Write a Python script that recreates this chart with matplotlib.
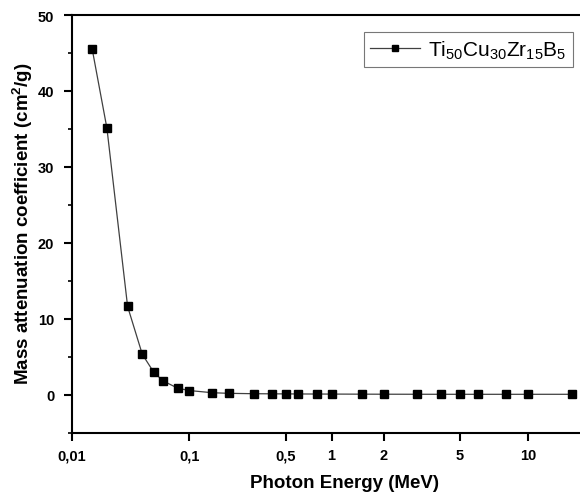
import numpy as np
import matplotlib
matplotlib.use("Agg")
import matplotlib.pyplot as plt
from matplotlib.ticker import FixedLocator, FixedFormatter, NullLocator, MultipleLocator

# ---- data ----
energy = [0.015, 0.02, 0.03, 0.04, 0.05, 0.06, 0.08, 0.1, 0.15, 0.2, 0.3, 0.4, 0.5,
          0.6, 0.8, 1, 1.5, 2, 3, 4, 5, 6, 8, 10, 15]
mac = [45.5, 35.1, 11.6, 5.3, 2.95, 1.8, 0.84, 0.53, 0.24, 0.16, 0.11, 0.095, 0.085,
       0.078, 0.068, 0.061, 0.050, 0.043, 0.037, 0.034, 0.032, 0.031, 0.031, 0.031, 0.033]
xtick_vals = [0.01, 0.1, 0.5, 1, 2, 5, 10]
xtick_labels = ["0,01", "0,1", "0,5", "1", "2", "5", "10"]
series_label = r"Ti$_{50}$Cu$_{30}$Zr$_{15}$B$_{5}$"

# ---- custom axis scale (mimics the original software's axis spacing) ----
KX = np.log10([0.01, 0.1, 0.2, 0.5, 1, 2, 5, 10, 15, 20])
KP = np.array([71.7, 189.3, 229.0, 285.7, 331.7, 384.0, 460.0, 528.3, 571.7, 603.5])

def fwd2(x):
    x = np.asarray(x, dtype=float)
    lx = np.log10(np.clip(x, 1e-6, None))
    out = np.interp(lx, KX, KP)
    out = np.where(lx < KX[0], KP[0] + (lx - KX[0]) * 117.6, out)
    out = np.where(lx > KX[-1], KP[-1] + (lx - KX[-1]) * 250.0, out)
    return out

def inv2(p):
    p = np.asarray(p, dtype=float)
    out = np.interp(p, KP, KX)
    out = np.where(p < KP[0], KX[0] + (p - KP[0]) / 117.6, out)
    out = np.where(p > KP[-1], KX[-1] + (p - KP[-1]) / 250.0, out)
    return 10 ** out

plt.rcParams['font.family'] = ['Liberation Sans', 'DejaVu Sans']
plt.rcParams['mathtext.fontset'] = 'custom'
plt.rcParams['mathtext.rm'] = 'Liberation Sans'
plt.rcParams['mathtext.it'] = 'Liberation Sans'
plt.rcParams['mathtext.bf'] = 'Liberation Sans:bold'

fig = plt.figure(figsize=(5.8, 5.02), dpi=100)
W, H = 580, 502
left, right, top, bottom = 71.5, 617, 16, 433.5
aw, ah = right - left, bottom - top
ax = fig.add_axes([left / W, 1 - bottom / H, aw / W, ah / H])
ax.set_xscale('function', functions=(fwd2, inv2))
ax.set_xlim(0.01, float(inv2(np.array(71.7 + aw))))
ax.set_ylim(-5, 50)

ax.plot(energy, mac, color='#404040', lw=0.9, marker='s', markersize=6.3,
        markerfacecolor='black', markeredgecolor='black', label=series_label)

ax.xaxis.set_major_locator(FixedLocator(xtick_vals))
ax.xaxis.set_major_formatter(FixedFormatter(xtick_labels))
ax.xaxis.set_minor_locator(NullLocator())
ax.yaxis.set_major_locator(MultipleLocator(10))
ax.yaxis.set_minor_locator(MultipleLocator(5))

for s in ['left', 'bottom', 'top']:
    ax.spines[s].set_linewidth(1.5)
ax.spines['right'].set_visible(False)
ax.tick_params(which='major', direction='out', length=5.5, width=1.5, labelsize=10.5)
ax.tick_params(axis='x', which='major', pad=6)
ax.tick_params(axis='y', which='major', pad=7)
ax.tick_params(which='minor', direction='out', length=3, width=1.2)
ax.tick_params(top=False, right=False, which='both')
for lab in ax.get_xticklabels() + ax.get_yticklabels():
    lab.set_fontweight('bold')

ax.set_xlabel('Photon Energy (MeV)', fontsize=13.5, fontweight='bold')
ax.xaxis.set_label_coords((344 - left) / aw, -(484 - bottom) / ah)
ax.xaxis.label.set_va('center')
ax.set_ylabel(r'Mass attenuation coefficient (cm$^\mathbf{2}$/g)', fontsize=13.5, fontweight='bold')
ax.yaxis.set_label_coords(-(left - 23) / aw, (bottom - 224) / ah)
ax.yaxis.label.set_va('center')

leg = ax.legend(loc='upper right', bbox_to_anchor=((573 - left) / aw, (bottom - 33) / ah),
                fontsize=15, frameon=True, fancybox=False, handlelength=2.4, handletextpad=0.4,
                borderpad=0.3, borderaxespad=0, markerscale=0.75)
leg.get_frame().set_edgecolor('#555555')
leg.get_frame().set_linewidth(0.8)

fig.savefig('out.png', dpi=100)
